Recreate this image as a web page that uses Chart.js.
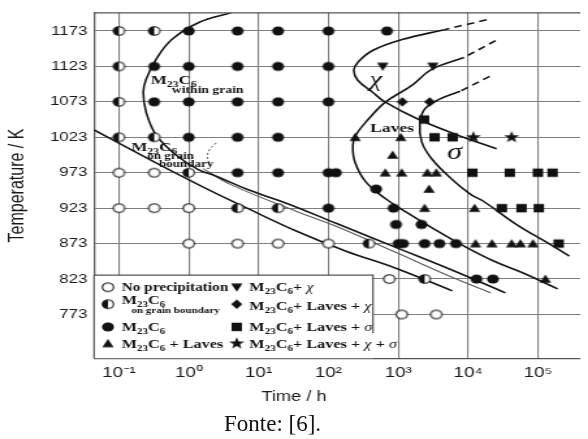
<!DOCTYPE html>
<html><head><meta charset="utf-8">
<script src="https://cdn.jsdelivr.net/npm/chart.js@4.4.1/dist/chart.umd.min.js"></script>
<style>
html,body{margin:0;padding:0;background:#fff;overflow:hidden;width:588px;height:439px;}
#wrap{position:absolute;left:0;top:0;width:452px;height:439px;transform:scaleX(1.3009);transform-origin:0 0;}
#c{display:block;}
#fonte{position:absolute;left:224px;top:412px;font-family:"Liberation Serif","Times New Roman",serif;font-size:23px;line-height:23px;color:#111;white-space:nowrap;}
</style></head><body>
<div id="wrap"><canvas id="c" width="452" height="439"></canvas></div>
<div id="fonte">Fonte: [6].</div>
<script>
// ---------- data (time in h, temperature in K) ----------
const xTicks = [0.1, 1, 10, 100, 1000, 10000, 100000];
const xTickLabels = ['10\u207B\u00B9','10\u2070','10\u00B9','10\u00B2','10\u00B3','10\u2074','10\u2075'];
const yTicks = [773, 823, 873, 923, 973, 1023, 1073, 1123, 1173];

const noPrecip = [[0.1,973],[0.32,973],[0.1,923],[0.32,923],[1,923],[1,873],[5,873],[19,873],[100,873],[745,823],[1120,773],[3500,773]];
const gbM23C6 = [[0.1,1173],[0.32,1173],[0.1,1123],[0.1,1073],[0.1,1023],[0.32,1023],[1,973],[5,923],[19,923],[380,873],[2390,823]];
const m23c6 = [[1,1173],[5,1173],[19,1173],[100,1173],[690,1173],
  [0.32,1123],[1,1123],[5,1123],[19,1123],[100,1123],
  [0.32,1073],[1,1073],[5,1073],[19,1073],[100,1073],
  [1,1023],[5,1023],[19,1023],
  [5,973],[19,973],[100,973],[128,973],
  [483,950],
  [100,923],[855,923],
  [930,900],[2150,900],
  [1010,873],[1170,873],[2390,873],[3890,873],[6700,873],
  [13200,823],[22700,823]];
const m23c6Laves = [[242,1023],[1090,1023],[830,998],[653,973],[1120,973],[2610,973],[3500,973],[2760,950],[2390,923],[12400,923],[12800,873],[22000,873],[42100,873],[56200,873],[85000,873],[128000,823]];
const m23c6Chi = [[600,1123],[3130,1123]];
const m23c6LavesChi = [[1145,1073],[2820,1073]];
const m23c6LavesSigma = [[2340,1048],[3310,1023],[6000,1023],[11500,973],[39600,973],[100000,973],[162000,973],[30400,923],[58200,923],[103000,923],[198000,873]];
const m23c6LavesChiSigma = [[11900,1023],[42100,1023]];

// boundary curves
const curveWithinGrain = [[4.01,1198.6],[1.37,1184.6],[0.571,1160.8],[0.34,1132.8],[0.245,1104.8],[0.223,1086.5],[0.245,1058.5],[0.34,1026.3],[0.65,998.3],[1.37,977.3],[2.38,968.8],[6.97,949.2],[25.5,929.6],[129,901.6],[904,868],[6340,834.3],[34300,803.5]];
const curveGrainBoundary = [[1.61,978.7],[4.01,956.2],[35.2,918.4],[129,897.4],[904,861],[4580,830.1],[21100,803.5]];
const curveNoPrecip = [[0.044,1033.3],[0.142,1006.7],[0.519,977.3],[1.90,949.2],[6.97,922.6],[35.2,890.4],[179,862.3],[904,838.6],[5940,806.3]];
const curveLeader = [[2.47,1015],[2.0,1006],[1.85,997],[1.93,988]];
const curveChiDashed = [[18500,1188.8],[4580,1174.8]];
const curveChi = [[4580,1174.8],[1135,1160.8],[429,1145.4],[263,1128.6],[231,1117.4],[263,1103.4],[429,1086.5],[653,1072.5],[1905,1048.7],[7000,1026.3],[25600,1006.7]];
const curveLavesDashed = [[24800,1159.4],[8770,1135.6]];
const curveLaves = [[8770,1135.6],[3010,1118.8],[1570,1096.3],[653,1072.5],[376,1048.7],[247,1026.3],[224,1012.3],[239,988.5],[341,960.4],[653,936.6],[1250,918.4],[3310,893.2],[8770,869.4],[23200,848.4],[61500,831.5],[192000,809.1]];
const curveSigmaDashed = [[20400,1109],[7700,1087.9]];
const curveSigma = [[7700,1087.9],[3900,1076.7],[2390,1062.7],[2040,1041.7],[2170,1016.5],[3010,992.7],[5750,964.6],[11000,942.2],[16800,932.4],[49000,900.2],[148000,872.2],[282000,855.4]];

// label anchors (time, temperature)
const noteAnchors = [[0.288,1097.7],[0.571,1085],[0.151,1004],[0.254,992.7],[0.375,981.4],[341,1096],[364,1030.5],[5050,992.7]];

// ---------- marker images ----------
function marker(kind){
  const c=document.createElement('canvas'); c.width=14; c.height=14;
  const g=c.getContext('2d'); const cx=7, cy=7;
  g.fillStyle='#111'; g.strokeStyle='#111'; g.lineWidth=1.1;
  g.beginPath();
  if(kind==='open'){ g.arc(cx,cy,4.3,0,2*Math.PI); g.fillStyle='#fff'; g.fill(); g.stroke(); }
  else if(kind==='half'){ g.arc(cx,cy,4.3,0,2*Math.PI); g.fillStyle='#fff'; g.fill(); g.stroke();
    g.beginPath(); g.arc(cx,cy,4.3,Math.PI/2,1.5*Math.PI); g.closePath(); g.fillStyle='#111'; g.fill(); }
  else if(kind==='filled'){ g.arc(cx,cy,4.6,0,2*Math.PI); g.fill(); }
  else if(kind==='tri'){ g.moveTo(cx,cy-4.6); g.lineTo(cx+4.4,cy+3.8); g.lineTo(cx-4.4,cy+3.8); g.closePath(); g.fill(); }
  else if(kind==='triDown'){ g.moveTo(cx-4.4,cy-3.8); g.lineTo(cx+4.4,cy-3.8); g.lineTo(cx,cy+4.6); g.closePath(); g.fill(); }
  else if(kind==='diamond'){ g.moveTo(cx,cy-4.7); g.lineTo(cx+4.3,cy); g.lineTo(cx,cy+4.7); g.lineTo(cx-4.3,cy); g.closePath(); g.fill(); }
  else if(kind==='square'){ g.rect(cx-4,cy-4.2,8,8.4); g.fill(); }
  else if(kind==='star'){ for(let i=0;i<10;i++){ const r=i%2?2.5:6.2; const a=-Math.PI/2+i*Math.PI/5; const px=cx+r*Math.cos(a), py=cy+r*Math.sin(a); i?g.lineTo(px,py):g.moveTo(px,py);} g.closePath(); g.fill(); }
  return c;
}
const M = {};
['open','half','filled','tri','triDown','diamond','square','star'].forEach(k=>M[k]=marker(k));

const pts = a => a.map(p=>({x:p[0],y:p[1]}));
const pointSet = (label,arr,kind) => ({label, data:pts(arr), pointStyle:M[kind], pointRadius:5, pointHoverRadius:5, showLine:false, order:1});
const lineSet = (label,arr,opt) => Object.assign({label, data:pts(arr), showLine:true, pointRadius:0, borderColor:'#161616', borderWidth:1.6, tension:0.4, fill:false, order:2}, opt||{});

const SERIF = '"Liberation Serif","Times New Roman",serif';
const SANS = '"Liberation Sans",Arial,sans-serif';
function rich(ctx,x,y,parts){ for(const p of parts){ ctx.font=p[1]; ctx.fillText(p[0],x,y+(p[2]||0)); x+=ctx.measureText(p[0]).width; } return x; }
const fB = s => 'bold '+s+'px '+SERIF;
const fI = s => 'italic '+s+'px '+SERIF;
const m23 = (b,s,d) => [['M',fB(b)],['23',fB(s),d],['C',fB(b)],['6',fB(s),d]];

const deco = {
  id:'deco',
  afterDatasetsDraw(chart){
    const {ctx, chartArea:a, scales:{x,y}} = chart;
    ctx.save();
    ctx.strokeStyle='#555'; ctx.lineWidth=1.3;
    ctx.beginPath(); ctx.moveTo(a.left,a.top); ctx.lineTo(a.right,a.top); ctx.stroke();
    ctx.fillStyle='#141414'; ctx.textBaseline='alphabetic'; ctx.textAlign='left';
    const P = i => [x.getPixelForValue(noteAnchors[i][0]), y.getPixelForValue(noteAnchors[i][1])];
    let p;
    p=P(0); rich(ctx,p[0],p[1],m23(13,9,3));
    p=P(1); rich(ctx,p[0],p[1],[['within grain',fB(10.5)]]);
    p=P(2); rich(ctx,p[0],p[1],m23(13,9,3));
    p=P(3); rich(ctx,p[0],p[1],[['on grain',fB(10)]]);
    p=P(4); rich(ctx,p[0],p[1],[['boundary',fB(10)]]);
    p=P(5); rich(ctx,p[0]+3,p[1],[['\u03C7',fI(22)]]);
    p=P(6); rich(ctx,p[0]+2,p[1],[['Laves',fB(13.5)]]);
    p=P(7); rich(ctx,p[0],p[1],[['\u03C3',fI(23)]]);
    // legend box (right edge stops above the last row, as in the source)
    const L=a.left, R=286.7, T=a.bottom-83, B=a.bottom;
    ctx.fillStyle='#fff'; ctx.fillRect(L,T,R-L,B-T);
    ctx.strokeStyle='#555'; ctx.lineWidth=1.2;
    ctx.beginPath(); ctx.moveTo(L,B); ctx.lineTo(L,T); ctx.lineTo(R,T); ctx.lineTo(R,B-25); ctx.stroke();
    ctx.fillStyle='#141414';
    const c1s=L+10.7, c1t=L+21.2, c2s=L+109.7, c2t=L+119.3;
    const sy=[B-71,B-54,B-31.3,B-14.7];
    const F=12.5, S=8.5, D=2.5;
    ctx.drawImage(M.open,c1s-7,sy[0]-7); rich(ctx,c1t,B-67,[['No precipitation',fB(11.8)]]);
    ctx.drawImage(M.half,c1s-7,sy[1]-7); rich(ctx,c1t,B-54,m23(F,S,D));
    rich(ctx,c1t+7.5,B-45,[['on grain boundary',fB(8.5)]]);
    ctx.drawImage(M.filled,c1s-7,sy[2]-7); rich(ctx,c1t,B-27,m23(F,S,D));
    ctx.drawImage(M.tri,c1s-7,sy[3]-7); rich(ctx,c1t,B-10,m23(F,S,D).concat([[' + Laves',fB(F)]]));
    ctx.drawImage(M.triDown,c2s-7,sy[0]-7); rich(ctx,c2t,B-67,m23(F,S,D).concat([['+ ',fB(F)],['\u03C7',fI(F)]]));
    ctx.drawImage(M.diamond,c2s-7,sy[1]-7); rich(ctx,c2t,B-48,m23(F,S,D).concat([['+ Laves + ',fB(F)],['\u03C7',fI(F)]]));
    ctx.drawImage(M.square,c2s-7,sy[2]-7); rich(ctx,c2t,B-27,m23(F,S,D).concat([['+ Laves + ',fB(F)],['\u03C3',fI(F)]]));
    ctx.drawImage(M.star,c2s-7,sy[3]-7); rich(ctx,c2t,B-10,m23(F,S,D).concat([['+ Laves + ',fB(F)],['\u03C7',fI(F)],[' + ',fB(F)],['\u03C3',fI(F)]]));
    ctx.restore();
  }
};

new Chart(document.getElementById('c'), {
  type:'scatter',
  data:{datasets:[
    lineSet('within grain',curveWithinGrain),
    lineSet('grain boundary',curveGrainBoundary,{borderColor:'#5a5a5a',borderWidth:1.1}),
    lineSet('no precipitation limit',curveNoPrecip),
    lineSet('leader',curveLeader,{borderColor:'#555',borderWidth:1,borderDash:[2,2]}),
    lineSet('chi dashed',curveChiDashed,{borderDash:[6,4],tension:0}),
    lineSet('chi',curveChi),
    lineSet('Laves dashed',curveLavesDashed,{borderDash:[6,4],tension:0}),
    lineSet('Laves',curveLaves),
    lineSet('sigma dashed',curveSigmaDashed,{borderDash:[6,4],tension:0}),
    lineSet('sigma',curveSigma),
    pointSet('No precipitation',noPrecip,'open'),
    pointSet('M23C6 on grain boundary',gbM23C6,'half'),
    pointSet('M23C6',m23c6,'filled'),
    pointSet('M23C6 + Laves',m23c6Laves,'tri'),
    pointSet('M23C6 + chi',m23c6Chi,'triDown'),
    pointSet('M23C6 + Laves + chi',m23c6LavesChi,'diamond'),
    pointSet('M23C6 + Laves + sigma',m23c6LavesSigma,'square'),
    pointSet('M23C6 + Laves + chi + sigma',m23c6LavesChiSigma,'star')
  ]},
  options:{
    responsive:false, animation:false, devicePixelRatio:1, events:[],
    layout:{padding:{left:0,right:0,top:10,bottom:33}},
    plugins:{
      legend:{display:false}, tooltip:{enabled:false},
      title:{display:true,position:'bottom',text:'Time / h',color:'#1a1a1a',font:{family:SANS,size:14,weight:'normal'},padding:{top:1,bottom:0}}
    },
    scales:{
      x:{type:'logarithmic',min:0.044,max:404000,
        afterBuildTicks:s=>{s.ticks=xTicks.map(v=>({value:v}));},
        afterFit:s=>{s.height=30;},
        ticks:{callback:(v,i)=>xTickLabels[i],color:'#1a1a1a',font:{family:SANS,size:14.5},padding:6,maxRotation:0,autoSkip:false},
        grid:{color:'#7f7f7f',lineWidth:1.1,drawTicks:false},
        border:{display:true,color:'#555',width:1.3}},
      y:{type:'linear',min:711.3,max:1198.6,
        afterBuildTicks:s=>{s.ticks=yTicks.map(v=>({value:v}));},
        afterFit:s=>{s.width=72.3;},
        ticks:{callback:v=>String(v),color:'#1a1a1a',font:{family:SANS,size:13},padding:5},
        grid:{color:'#7f7f7f',lineWidth:1.1,drawTicks:false},
        border:{display:true,color:'#555',width:1.3},
        title:{display:true,text:'Temperature / K',color:'#1a1a1a',font:{family:SANS,size:16},padding:{top:4,bottom:0}}}
    }
  },
  plugins:[deco]
});
</script>
</body></html>
